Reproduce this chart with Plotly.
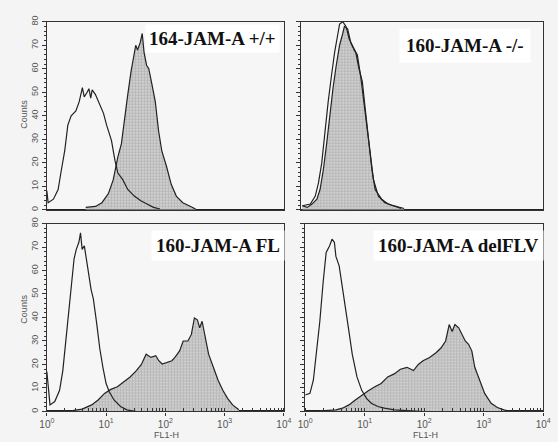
import plotly.graph_objects as go

# ---------------- data (FL1-H value, counts) ----------------
panel_titles = ["164-JAM-A +/+", "160-JAM-A -/-", "160-JAM-A FL", "160-JAM-A delFLV"]
x_tick_vals = [1, 10, 100, 1000, 10000]
x_tick_text = ["10<sup>0</sup>", "10<sup>1</sup>", "10<sup>2</sup>", "10<sup>3</sup>", "10<sup>4</sup>"]
y_tick_vals = [0, 10, 20, 30, 40, 50, 60, 70, 80]

# top-left: 164-JAM-A +/+
a_open_x = [1.0, 1.05, 1.29, 1.55, 1.76, 2.0, 2.26, 2.45, 2.57, 3.09, 3.52, 3.98, 4.27, 4.79, 5.13, 5.5,
            5.82, 6.61, 7.48, 9.04, 10.2, 12.3, 14.1, 15.8, 19.1, 23.2, 29.9, 38.5, 49.0, 63.1, 81.3]
a_open_y = [8, 3, 4.5, 8.6, 17, 25, 36, 39, 40, 42, 46, 52, 48, 50, 51.5, 47.5,
            51, 49, 46, 41, 36, 29.5, 21, 15.6, 12.8, 8.6, 5.8, 3.8, 2.4, 1, 0.3]
a_fill_x = [4.53, 6.61, 8.51, 11.0, 13.2, 15.8, 18.1, 20.4, 23.2, 26.3, 29.9, 31.6, 33.9, 37.5, 40.7,
            43.7, 48.2, 52.5, 59.7, 67.6, 76.7, 87.1, 104.7, 126, 153, 197, 251, 324]
a_fill_y = [1, 1.4, 3, 7, 12.8, 22.5, 28, 39, 49, 58.7, 67, 70, 68, 71, 75,
            67, 61.5, 60, 53, 46, 33.7, 25, 18.4, 10.7, 5.8, 3, 1.7, 0.3]

# top-right: 160-JAM-A -/-
b_open_x = [1.04, 1.41, 1.70, 1.92, 2.17, 2.45, 2.78, 3.15, 3.55, 4.03, 4.29, 4.84, 5.48, 6.19, 7.01,
            7.94, 8.97, 10.2, 11.5, 13.0, 14.7, 16.6, 21.3, 27.2, 34.8, 44.7]
b_open_y = [1.7, 2.4, 5.8, 11.4, 19.7, 33.7, 46, 57, 67, 75, 79, 80, 78, 72.6, 70,
            67, 60, 54.5, 42, 28, 17, 8.6, 4.5, 2.4, 1.4, 0.5]
b_fill_x = [1.04, 1.25, 1.50, 1.81, 2.04, 2.31, 2.62, 2.96, 3.35, 3.78, 4.29, 4.84, 5.15, 5.83, 6.59,
            7.46, 8.43, 9.55, 10.8, 12.2, 13.8, 15.6, 18.8, 24.0, 30.9, 39.4, 50.1]
b_fill_y = [1.7, 1, 2.4, 4.5, 8.6, 17, 28, 40.6, 52, 61.5, 70, 75, 78, 77, 71,
            68, 66, 57, 46, 33.7, 22.5, 12.8, 5.8, 3, 2, 1.4, 0.5]

# bottom-left: 160-JAM-A FL
c_open_x = [1.0, 1.13, 1.36, 1.64, 1.86, 2.11, 2.39, 2.70, 2.88, 3.14, 3.47, 3.70, 3.94, 4.29, 4.62,
            5.05, 5.57, 6.08, 6.89, 7.80, 8.83, 10.0, 11.3, 13.6, 17.5, 22.4, 32.7]
c_open_y = [17, 2.8, 4.2, 9, 17.4, 31, 46.8, 58, 65, 69, 72, 76, 69, 70.5, 66,
            59, 52, 48, 38, 27, 18.8, 11.9, 8.4, 4.9, 2.1, 0.7, 0]
c_fill_x = [2.70, 3.94, 5.71, 7.33, 9.4, 12.0, 15.5, 20.0, 25.4, 32.4, 39.4, 47.4, 57.1, 68.9, 77.6,
            88.3, 107.2, 129, 145, 174, 200, 240, 275, 309, 347, 380, 417, 479, 537, 646,
            776, 933, 1122, 1365, 1738]
c_fill_y = [0.4, 1, 2.8, 4.9, 7.7, 9.4, 10.5, 12.6, 14.7, 17.4, 20, 24.4, 23, 23.7, 21.6,
            20.2, 21, 21.6, 23, 25.8, 30, 30, 32.8, 39.8, 39, 35.6, 38.4, 31.4, 24.4, 18.8,
            13.3, 9, 5.6, 2.8, 0.7]

# bottom-right: 160-JAM-A delFLV
d_open_x = [1.0, 1.20, 1.37, 1.55, 1.76, 2.0, 2.25, 2.57, 2.82, 3.09, 3.28, 3.72, 4.22, 4.79, 5.42,
            6.17, 7.41, 8.91, 10.7, 12.9, 16.6, 21.4, 31.3, 51.3, 95.5]
d_open_y = [7, 7.7, 13.3, 24.4, 38.4, 55, 67.7, 70.5, 73.3, 72, 66, 62, 52, 44, 34.2,
            24.4, 14.7, 9, 5.6, 3.5, 2.1, 1.4, 0.7, 0.4, 0]
d_fill_x = [1.20, 2.25, 3.28, 4.22, 5.42, 6.95, 8.93, 11.5, 14.8, 18.9, 24.3, 31.3, 39.8, 51.3, 66.1,
            79.4, 95.5, 123, 158, 191, 229, 263, 295, 328, 380, 432, 490, 556, 631, 708,
            861, 1038, 1334, 1698, 2188, 2818]
d_fill_y = [0, 0.4, 0.7, 1.4, 2.8, 4.9, 7, 8.8, 10.5, 11.9, 14.7, 16, 18, 18.8, 17.4,
            20, 21.6, 23, 25, 27, 30, 37, 34, 37, 35.6, 32.8, 30, 28.6, 25.8, 18.8,
            13.3, 7.7, 3.5, 1.7, 0.7, 0]

panels = [
    (a_open_x, a_open_y, a_fill_x, a_fill_y),
    (b_open_x, b_open_y, b_fill_x, b_fill_y),
    (c_open_x, c_open_y, c_fill_x, c_fill_y),
    (d_open_x, d_open_y, d_fill_x, d_fill_y),
]

# ---------------- layout geometry ----------------
W, H = 558, 442
def px(v):
    return v / W
def py(v):
    return 1 - v / H

x_domains = [[px(40), px(284)], [px(302), px(551)], [px(40), px(284)], [px(306), px(551)]]
y_domains = [[py(207), py(16)], [py(207), py(16)], [py(412), py(221)], [py(412), py(221)]]

fig = go.Figure()
line_col = "#222"
for i, (ox, oy, fx, fy) in enumerate(panels):
    ax = "" if i == 0 else str(i + 1)
    fig.add_trace(go.Scatter(
        x=fx, y=fy, mode="lines", fill="tozeroy",
        line=dict(color=line_col, width=1.2),
        fillcolor="#c4c4c4",
        fillpattern=dict(shape="+", fgcolor="#8e8e8e", bgcolor="#d0d0d0", size=3, solidity=0.4),
        xaxis="x" + ax, yaxis="y" + ax, showlegend=False, hoverinfo="skip"))
    fig.add_trace(go.Scatter(
        x=ox, y=oy, mode="lines",
        line=dict(color=line_col, width=1.2),
        xaxis="x" + ax, yaxis="y" + ax, showlegend=False, hoverinfo="skip"))

x_tick_font = dict(family="Liberation Sans, Arial, sans-serif", size=10, color="#555")
y_tick_font = dict(family="Liberation Sans, Arial, sans-serif", size=9, color="#555")
for i in range(4):
    n = "" if i == 0 else str(i + 1)
    bottom = i >= 2
    left = i in (0, 2)
    fig.layout["xaxis" + n] = dict(
        domain=x_domains[i], anchor="y" + n, type="log", range=[0, 4],
        showline=True, mirror=True, linecolor="#333", linewidth=1.2,
        showgrid=False, zeroline=False,
        tickvals=x_tick_vals, ticktext=x_tick_text,
        ticks="outside" if bottom else "", ticklen=3, tickcolor="#333",
        showticklabels=bottom, tickfont=x_tick_font,
        minor=dict(ticks="inside" if bottom else "", ticklen=3, dtick="D1", tickcolor="#333"),
    )
    fig.layout["yaxis" + n] = dict(
        domain=y_domains[i], anchor="x" + n, range=[0, 80],
        showline=True, mirror=True, linecolor="#333", linewidth=1.2,
        showgrid=False, zeroline=True, zerolinecolor="#222", zerolinewidth=2,
        tickvals=y_tick_vals, ticks="outside", ticklen=4, tickcolor="#333",
        showticklabels=left, tickangle=-90, tickfont=y_tick_font,
        minor=dict(ticks="outside", ticklen=2, dtick=2, tickcolor="#333"),
    )

annotations = []
label_pos = [(211, 33), (470, 40), (216, 243), (464, 243)]
label_pad = [3, 6, 4, 4]
for t, (lx, ly), bp in zip(panel_titles, label_pos, label_pad):
    annotations.append(dict(
        text="<b>" + t + "</b>", x=px(lx), y=py(ly), xref="paper", yref="paper",
        xanchor="center", yanchor="middle", showarrow=False,
        font=dict(family="Liberation Serif, Times New Roman, serif", size=19, color="#111"),
        bgcolor="white", borderpad=bp))
for cy in (110, 308):
    annotations.append(dict(
        text="Counts", x=px(17), y=py(cy), xref="paper", yref="paper", textangle=-90,
        xanchor="center", yanchor="middle", showarrow=False,
        font=dict(family="Liberation Sans, Arial, sans-serif", size=9, color="#555")))
for cx in (163, 430):
    annotations.append(dict(
        text="FL1-H", x=px(cx), y=py(436), xref="paper", yref="paper",
        xanchor="center", yanchor="middle", showarrow=False,
        font=dict(family="Liberation Sans, Arial, sans-serif", size=9, color="#555")))

fig.update_layout(
    width=W, height=H, margin=dict(l=0, r=0, t=0, b=0),
    paper_bgcolor="#f4f4f4", plot_bgcolor="#f6f6f6",
    annotations=annotations, showlegend=False,
)

fig.write_html("out.html", config={"displayModeBar": False},
               post_script="document.body.style.margin='0';document.body.style.overflow='hidden';")
